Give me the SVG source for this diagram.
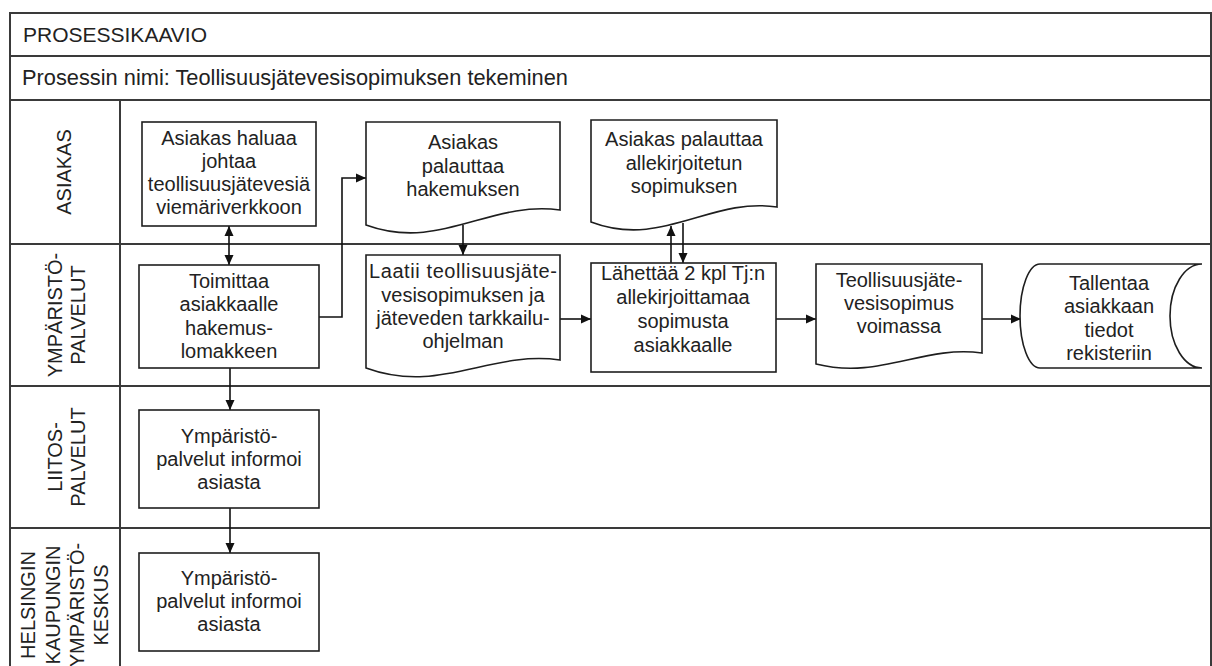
<svg xmlns="http://www.w3.org/2000/svg" width="1212" height="666" viewBox="0 0 1212 666">
  <style>
    .frame { fill: none; stroke: #3a3a3a; stroke-width: 2; }
    .shape { fill: #ffffff; stroke: #1e1e1e; stroke-width: 1.6; }
    .t { font-family: "Liberation Sans", Arial, sans-serif; font-size: 20px; fill: #222222; text-anchor: middle; }
    .lane { font-family: "Liberation Sans", Arial, sans-serif; font-size: 20px; fill: #222222; text-anchor: middle; }
    .head { font-family: "Liberation Sans", Arial, sans-serif; fill: #222222; }
    .conn { fill: none; stroke: #111111; stroke-width: 1.6; }
  </style>
  <defs>
    <marker id="arrow" viewBox="0 0 10 10" refX="10" refY="5" markerWidth="10" markerHeight="10" markerUnits="userSpaceOnUse" orient="auto-start-reverse">
      <path d="M0,0.5 L10,5 L0,9.5 Z" fill="#111111"/>
    </marker>
  </defs>

  <rect width="1212" height="666" fill="#ffffff"/>

  <!-- header rows and swimlane grid -->
  <g id="frame">
    <path class="frame" d="M10,680 V13 H1211 V680"/>
    <line class="frame" x1="10" y1="56" x2="1211" y2="56"/>
    <line class="frame" x1="10" y1="100" x2="1211" y2="100"/>
    <line class="frame" x1="10" y1="244" x2="1211" y2="244"/>
    <line class="frame" x1="10" y1="386" x2="1211" y2="386"/>
    <line class="frame" x1="10" y1="528" x2="1211" y2="528"/>
    <line class="frame" x1="120" y1="100" x2="120" y2="680"/>
    <text class="head" x="23" y="42" font-size="21">PROSESSIKAAVIO</text>
    <text class="head" x="22" y="85" font-size="21.8">Prosessin nimi: Teollisuusjätevesisopimuksen tekeminen</text>
  </g>

  <!-- lane titles -->
  <g id="lane-asiakas">
    <text class="lane" transform="translate(71,172) rotate(-90)">ASIAKAS</text>
  </g>
  <g id="lane-ymparistopalvelut">
    <text class="lane" transform="translate(62,315) rotate(-90)">YMPÄRISTÖ-</text>
    <text class="lane" transform="translate(85,315) rotate(-90)">PALVELUT</text>
  </g>
  <g id="lane-liitospalvelut">
    <text class="lane" transform="translate(62,457) rotate(-90)">LIITOS-</text>
    <text class="lane" transform="translate(85,457) rotate(-90)">PALVELUT</text>
  </g>
  <g id="lane-ymparistokeskus">
    <text class="lane" transform="translate(35,605) rotate(-90)">HELSINGIN</text>
    <text class="lane" transform="translate(60,605) rotate(-90)">KAUPUNGIN</text>
    <text class="lane" transform="translate(84,605) rotate(-90)">YMPÄRISTÖ-</text>
    <text class="lane" transform="translate(108,605) rotate(-90)">KESKUS</text>
  </g>

  <!-- connectors -->
  <g id="connectors">
    <line class="conn" x1="229" y1="226" x2="229" y2="265" marker-start="url(#arrow)" marker-end="url(#arrow)"/>
    <path class="conn" d="M319,317 H342 V178 H366" marker-end="url(#arrow)"/>
    <line class="conn" x1="463" y1="225" x2="463" y2="255" marker-end="url(#arrow)"/>
    <line class="conn" x1="560" y1="319" x2="591" y2="319" marker-end="url(#arrow)"/>
    <line class="conn" x1="671" y1="263" x2="671" y2="226" marker-end="url(#arrow)"/>
    <line class="conn" x1="683" y1="223" x2="683" y2="263" marker-end="url(#arrow)"/>
    <line class="conn" x1="776" y1="319" x2="816" y2="319" marker-end="url(#arrow)"/>
    <line class="conn" x1="982" y1="319" x2="1021" y2="319" marker-end="url(#arrow)"/>
    <line class="conn" x1="230" y1="368" x2="230" y2="410" marker-end="url(#arrow)"/>
    <line class="conn" x1="230" y1="508" x2="230" y2="553" marker-end="url(#arrow)"/>
  </g>

  <!-- process steps -->
  <g id="n-haluaa">
    <rect class="shape" x="142" y="122" width="174" height="104"/>
    <text class="t" x="229" y="145">Asiakas haluaa</text>
    <text class="t" x="229" y="168">johtaa</text>
    <text class="t" x="229" y="191">teollisuusjätevesiä</text>
    <text class="t" x="229" y="214">viemäriverkkoon</text>
  </g>

  <g id="n-toimittaa">
    <rect class="shape" x="139" y="265" width="180" height="103"/>
    <text class="t" x="229" y="288">Toimittaa</text>
    <text class="t" x="229" y="311">asiakkaalle</text>
    <text class="t" x="229" y="335">hakemus-</text>
    <text class="t" x="229" y="358">lomakkeen</text>
  </g>

  <g id="n-liitos-informoi">
    <rect class="shape" x="139" y="410" width="180" height="98"/>
    <text class="t" x="229" y="443">Ympäristö-</text>
    <text class="t" x="229" y="466">palvelut informoi</text>
    <text class="t" x="229" y="489">asiasta</text>
  </g>

  <g id="n-keskus-informoi">
    <rect class="shape" x="139" y="553" width="180" height="98"/>
    <text class="t" x="229" y="585">Ympäristö-</text>
    <text class="t" x="229" y="608">palvelut informoi</text>
    <text class="t" x="229" y="631">asiasta</text>
  </g>

  <g id="n-palauttaa-hakemuksen">
    <path class="shape" d="M366,122 H560 V210 C490,200 440,252 366,225 Z"/>
    <text class="t" x="463" y="149">Asiakas</text>
    <text class="t" x="463" y="173">palauttaa</text>
    <text class="t" x="463" y="196">hakemuksen</text>
  </g>

  <g id="n-laatii">
    <path class="shape" d="M366,255 H560 V360 C490,350 440,395 366,368 Z"/>
    <text class="t" x="463" y="278" textLength="188" lengthAdjust="spacing">Laatii teollisuusjäte-</text>
    <text class="t" x="463" y="302">vesisopimuksen ja</text>
    <text class="t" x="463" y="325">jäteveden tarkkailu-</text>
    <text class="t" x="463" y="348">ohjelman</text>
  </g>

  <g id="n-palauttaa-sopimuksen">
    <path class="shape" d="M591,120 H777 V207 C710,197 662,249 591,222 Z"/>
    <text class="t" x="684" y="146">Asiakas palauttaa</text>
    <text class="t" x="684" y="170">allekirjoitetun</text>
    <text class="t" x="684" y="193">sopimuksen</text>
  </g>

  <g id="n-lahettaa">
    <rect class="shape" x="591" y="263" width="185" height="109"/>
    <text class="t" x="683" y="280">Lähettää 2 kpl Tj:n</text>
    <text class="t" x="683" y="304">allekirjoittamaa</text>
    <text class="t" x="683" y="328">sopimusta</text>
    <text class="t" x="683" y="352">asiakkaalle</text>
  </g>

  <g id="n-voimassa">
    <path class="shape" d="M816,264 H982 V353 C922,345 880,380 816,364 Z"/>
    <text class="t" x="899" y="287">Teollisuusjäte-</text>
    <text class="t" x="899" y="310">vesisopimus</text>
    <text class="t" x="899" y="333">voimassa</text>
  </g>

  <g id="n-tallentaa">
    <path class="shape" d="M1040,264 H1202 A32,52 0 0 0 1202,368 H1040 A20,52 0 0 1 1040,264 Z"/>
    <text class="t" x="1109" y="290">Tallentaa</text>
    <text class="t" x="1109" y="313">asiakkaan</text>
    <text class="t" x="1109" y="337">tiedot</text>
    <text class="t" x="1109" y="360">rekisteriin</text>
  </g>
</svg>
